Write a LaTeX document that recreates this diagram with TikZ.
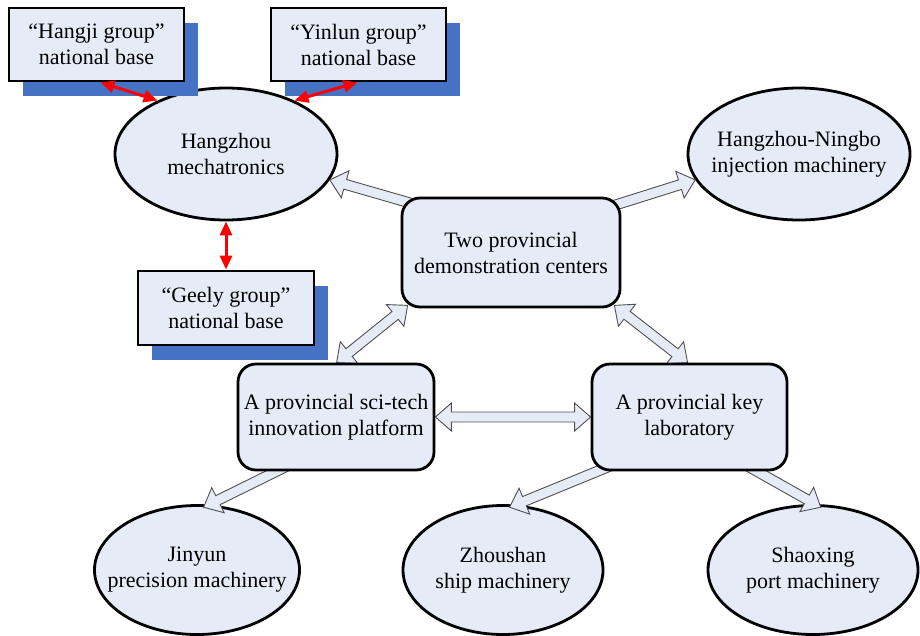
\documentclass[tikz,border=0pt]{standalone}
\usepackage{fontspec}
\setmainfont{Liberation Serif}
\usetikzlibrary{calc,shapes.geometric,shadows,arrows.meta}

\definecolor{boxfill}{RGB}{230,236,247}
\definecolor{shadowblue}{RGB}{70,114,196}
\definecolor{linkgray}{RGB}{80,80,80}
\definecolor{linkred}{RGB}{255,0,0}

% block-arrow geometry: half shaft width, half head width, head length
\newcommand{\shaftw}{5pt}
\newcommand{\wingw}{14pt}
\newcommand{\headl}{16pt}

\pgfdeclarelayer{ellipselayer}
\pgfdeclarelayer{linklayer}
\pgfsetlayers{ellipselayer,linklayer,main}

\tikzset{
  every node/.style={font=\fontsize{22}{26}\selectfont, align=center, text=black},
  basebox/.style={rectangle, draw=black, fill=boxfill, line width=2.8pt, inner sep=0pt,
    minimum width=175pt, minimum height=73pt,
    drop shadow={shadow xshift=14pt, shadow yshift=-15pt, fill=shadowblue, opacity=1}},
  unitbox/.style={rectangle, rounded corners=18pt, draw=black, fill=boxfill,
    line width=2.8pt, inner sep=0pt},
  % the size of each ellipse is fixed by its minimum width and height
  cluster/.style={ellipse, draw=black, fill=boxfill, line width=2.8pt,
    inner xsep=-45pt, inner ysep=0pt},
  flow/.style={draw=linkgray, fill=boxfill, line width=0.9pt, line join=miter},
  onehead/.style={to path={
    let \p{a}=(\tikztostart), \p{b}=(\tikztotarget),
        \p{h}=($(\p{b})!\headl!(\p{a})$) in
    ($(\p{a})!\shaftw!90:(\p{b})$) -- ($(\p{h})!\shaftw!90:(\p{b})$)
    -- ($(\p{h})!\wingw!90:(\p{b})$) -- (\p{b})
    -- ($(\p{h})!\wingw!-90:(\p{b})$) -- ($(\p{h})!\shaftw!-90:(\p{b})$)
    -- ($(\p{a})!\shaftw!-90:(\p{b})$) -- cycle}},
  twohead/.style={to path={
    let \p{a}=(\tikztostart), \p{b}=(\tikztotarget),
        \p{g}=($(\p{a})!\headl!(\p{b})$), \p{h}=($(\p{b})!\headl!(\p{a})$) in
    (\p{a}) -- ($(\p{g})!\wingw!90:(\p{b})$) -- ($(\p{g})!\shaftw!90:(\p{b})$)
    -- ($(\p{h})!\shaftw!90:(\p{b})$) -- ($(\p{h})!\wingw!90:(\p{b})$) -- (\p{b})
    -- ($(\p{h})!\wingw!-90:(\p{b})$) -- ($(\p{h})!\shaftw!-90:(\p{b})$)
    -- ($(\p{g})!\shaftw!-90:(\p{b})$) -- ($(\p{g})!\wingw!-90:(\p{b})$) -- cycle}},
  tie/.style={draw=linkred, line width=3pt,
    {Triangle[length=14pt,width=12pt]}-{Triangle[length=14pt,width=12pt]}}
}

\begin{document}
\begin{tikzpicture}[x=1pt, y=-1pt]
\useasboundingbox (0,0) rectangle (920,635);

% industry clusters
\begin{pgfonlayer}{ellipselayer}
\node[cluster, minimum width=222pt, minimum height=132pt] (hz) at (226,154) {Hangzhou\\mechatronics};
\node[cluster, minimum width=222pt, minimum height=132pt] (hn) at (799,154) {Hangzhou-Ningbo\\injection machinery};
\node[cluster, minimum width=205pt, minimum height=129pt] (jinyun) at (197,570) {Jinyun\\precision machinery};
\node[cluster, minimum width=200pt, minimum height=129pt] (zhoushan) at (503,570) {Zhoushan\\ship machinery};
\node[cluster, minimum width=210pt, minimum height=129pt] (shaoxing) at (813,570) {Shaoxing\\port machinery};
\end{pgfonlayer}

% national bases
\node[basebox] (hangji) at (96.5,44.5) {“Hangji group”\\national base};
\node[basebox] (yinlun) at (358.5,44.5) {“Yinlun group”\\national base};
\node[basebox, minimum width=176pt, minimum height=74pt] (geely) at (226,308) {“Geely group”\\national base};

% provincial units
\node[unitbox, minimum width=218pt, minimum height=109pt] (two) at (511,252.5) {Two provincial\\demonstration centers};
\node[unitbox, minimum width=196pt, minimum height=106pt] (scitech) at (336,417) {A provincial sci-tech\\innovation platform};
\node[unitbox, minimum width=195pt, minimum height=106pt] (keylab) at (689.5,417) {A provincial key\\laboratory};

% block arrows between units and clusters
\begin{pgfonlayer}{linklayer}
\path[flow] ($(two.north west)+(29,12)$) to[onehead] (hz.-14);
\path[flow] ($(two.north east)+(-27,15)$) to[onehead] (hn.194);
\path[flow] ($(two.south west)+(7,-3)$) to[twohead] ($(scitech.north west)+(100,0)$);
\path[flow] ($(two.south east)+(-7,-3)$) to[twohead] ($(keylab.north west)+(97,0)$);
\path[flow] (scitech.east) to[twohead] (keylab.west);
\path[flow] ($(scitech.south west)+(64,-12)$) to[onehead] ($(jinyun.84)!3pt!(jinyun.center)$);
\path[flow] ($(keylab.south west)+(26,-8)$) to[onehead] ($(zhoushan.84)!3pt!(zhoushan.center)$);
\path[flow] ($(keylab.south east)+(-49,-10)$) to[onehead] ($(shaoxing.83)!3pt!(shaoxing.center)$);
\end{pgfonlayer}

% links from the national bases
\draw[tie] ($(hangji.south)+(4,0)$) -- (hz.142);
\draw[tie] ($(yinlun.south)+(-1,0)$) -- (hz.38);
\draw[tie] (hz.south) -- (geely.north);
\end{tikzpicture}
\end{document}
